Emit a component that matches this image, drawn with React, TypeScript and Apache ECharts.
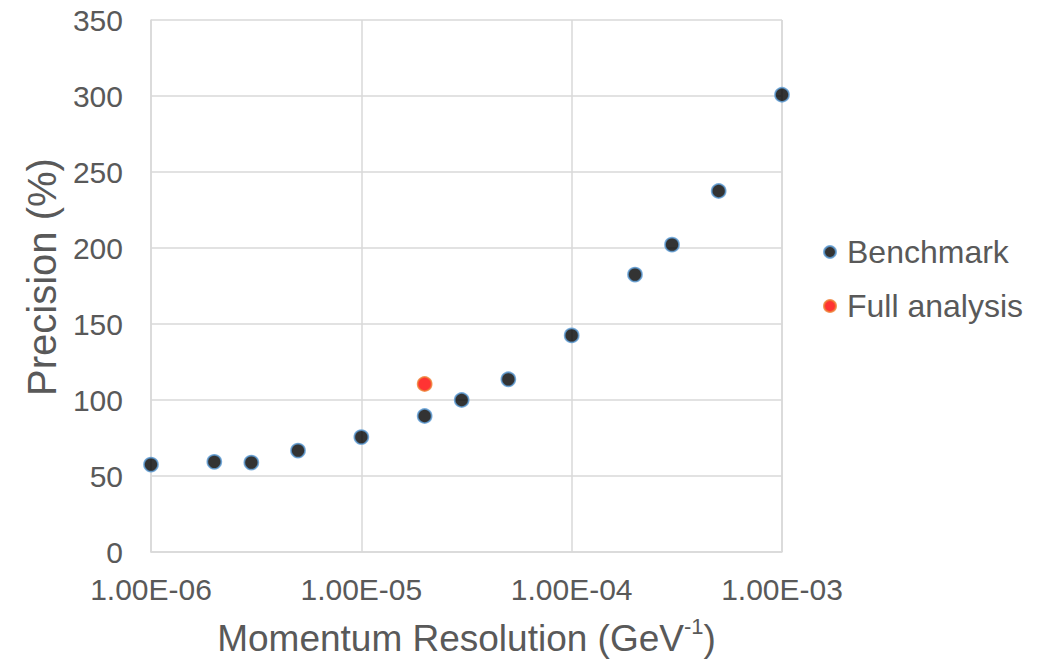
import React, { useEffect, useRef } from "react";
import * as echarts from "echarts";

const benchmarkX = [1e-6, 2e-6, 3e-6, 5e-6, 1e-5, 2e-5, 3e-5, 5e-5, 1e-4, 2e-4, 3e-4, 5e-4, 1e-3];
const benchmarkY = [57.5, 59.3, 58.8, 66.7, 75.6, 89.5, 100, 113.6, 142.5, 182.5, 202.2, 237.5, 300.8];
const fullX = [2e-5];
const fullY = [110.5];
const yTicks = { min: 0, max: 350, interval: 50 };

const fmt = (v: number) => {
  const e = Math.round(Math.log10(v));
  const m = v / Math.pow(10, e);
  const sign = e < 0 ? "-" : "+";
  const ae = Math.abs(e);
  return m.toFixed(2) + "E" + sign + (ae < 10 ? "0" + ae : String(ae));
};

export default function App() {
  const ref = useRef<HTMLDivElement>(null);
  useEffect(() => {
    if (!ref.current) return;
    const chart = echarts.init(ref.current, null, { renderer: "svg" });
    const font = "Liberation Sans, Arial, sans-serif";
    const grey = "#595959";
    chart.setOption({
      animation: false,
      backgroundColor: "#ffffff",
      textStyle: { fontFamily: font },
      grid: { left: 151, right: 271, top: 20, bottom: 103 },
      legend: {
        orient: "vertical",
        left: 818,
        top: 230,
        itemGap: 20,
        itemWidth: 12,
        itemHeight: 12,
        icon: "circle",
        textStyle: { fontSize: 32, lineHeight: 34, color: grey, fontFamily: font, padding: [0, 0, 0, 6] },
        data: ["Benchmark", "Full analysis"],
      },
      xAxis: {
        type: "log",
        logBase: 10,
        min: 1e-6,
        max: 1e-3,
        axisLine: { show: true, lineStyle: { color: "#d9d9d9", width: 1.5 } },
        axisTick: { show: false },
        splitLine: { show: true, lineStyle: { color: "#d9d9d9", width: 1.5 } },
        minorSplitLine: { show: false },
        axisLabel: {
          formatter: (v: number) => fmt(v),
          fontSize: 30,
          color: grey,
          margin: 22,
          fontFamily: font,
        },
        name: "{a|Momentum Resolution (GeV}{s|-1}{a|)}",
        nameLocation: "middle",
        nameGap: 63,
        nameTextStyle: {
          rich: {
            a: { fontSize: 37, color: grey, fontFamily: font, verticalAlign: "bottom", lineHeight: 42 },
            s: { fontSize: 22, color: grey, fontFamily: font, verticalAlign: "top", lineHeight: 42, padding: [0, 0, 15, 0] },
          },
        },
      },
      yAxis: {
        type: "value",
        min: yTicks.min,
        max: yTicks.max,
        interval: yTicks.interval,
        axisLine: { show: true, lineStyle: { color: "#d9d9d9", width: 1.5 } },
        axisTick: { show: false },
        splitLine: { show: true, lineStyle: { color: "#d9d9d9", width: 1.5 } },
        axisLabel: { fontSize: 30, color: grey, margin: 28, fontFamily: font },
        name: "Precision (%)",
        nameLocation: "middle",
        nameGap: 88,
        nameTextStyle: { fontSize: 40, color: grey, fontFamily: font, padding: [0, 0, 0, 18] },
      },
      series: [
        {
          name: "Benchmark",
          type: "scatter",
          symbol: "circle",
          symbolSize: 14,
          itemStyle: { color: "#000000", borderColor: "#5b9bd5", borderWidth: 1.75 },
          data: benchmarkX.map((x, i) => [x, benchmarkY[i]]),
          z: 3,
        },
        {
          name: "Full analysis",
          type: "scatter",
          symbol: "circle",
          symbolSize: 14,
          itemStyle: { color: "#ff0000", borderColor: "#ed7d31", borderWidth: 1.75 },
          data: fullX.map((x, i) => [x, fullY[i]]),
          z: 4,
        },
      ],
    });
    return () => chart.dispose();
  }, []);
  return (
    <div
      ref={ref}
      style={{ position: "absolute", left: 0, top: 0, width: 1053, height: 662 }}
    />
  );
}
